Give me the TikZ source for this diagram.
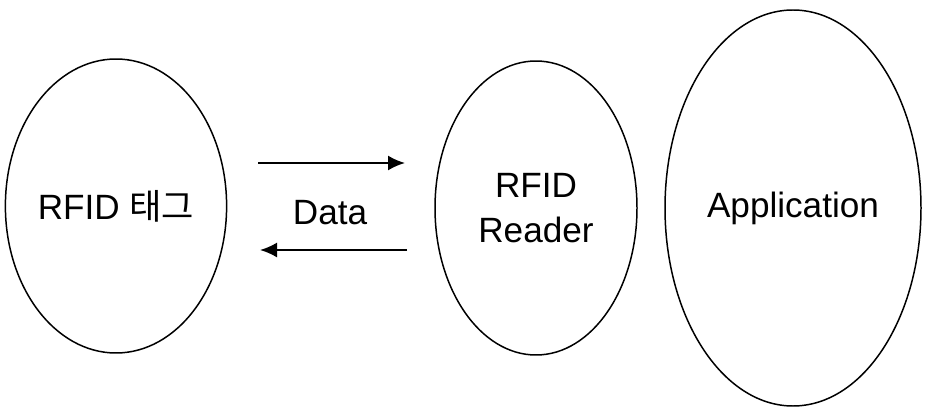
\documentclass[tikz,border=0pt]{standalone}
\usepackage{fontspec}
\setmainfont{Liberation Sans}
\newfontfamily\krfont{Noto Sans CJK KR}
\usetikzlibrary{arrows.meta,shapes.geometric}

\tikzset{
  part/.style={draw, ellipse, line width=0.85pt, inner sep=0pt, align=center},
  flow/.style={line width=1.1pt, -{Latex[length=3.4mm,width=3mm]}}
}

\begin{document}
\begin{tikzpicture}[font=\fontsize{20}{25.5}\selectfont]
\useasboundingbox (0,0) rectangle (18.5,8.28);
\node[part, minimum width=4.08cm, minimum height=5.88cm] (tag) at (2.32,4.16) {RFID {\krfont 태그}};
\node[part, minimum width=4.04cm, minimum height=5.88cm] (reader) at (10.72,4.12) {RFID\\Reader};
\node[part, minimum width=5.12cm, minimum height=7.92cm] (app) at (15.86,4.12) {Application};

\node (data) at (6.60,4.02) {Data};
\coordinate (tx) at (5.16,5.02);
\coordinate (rx) at (8.10,5.02);
\coordinate (ry) at (8.14,3.28);
\coordinate (ty) at (5.20,3.28);

\draw[flow] (tx) -- (rx);
\draw[flow] (ry) -- (ty);
\end{tikzpicture}
\end{document}
